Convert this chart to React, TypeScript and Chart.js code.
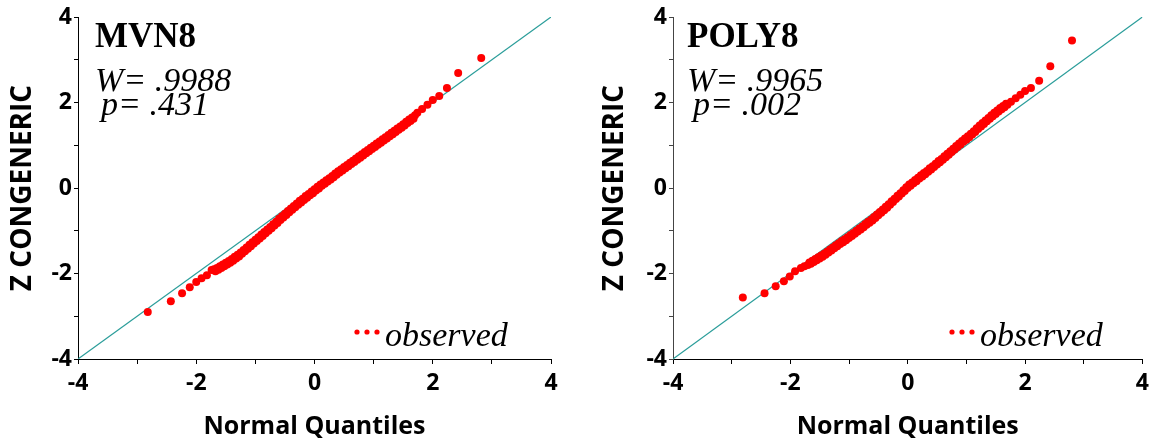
import React, { useEffect, useRef } from "react";
import { Chart, registerables } from "chart.js";

Chart.register(...registerables);

// Normal quantiles of the dense middle part (shared by both panels)
const midQuantiles = [
  -1.7, -1.65, -1.6, -1.55, -1.5, -1.45, -1.4, -1.35, -1.3, -1.25, -1.2, -1.15, -1.1, -1.05, -1.0,
  -0.95, -0.9, -0.85, -0.8, -0.75, -0.7, -0.65, -0.6, -0.55, -0.5, -0.45, -0.4, -0.35, -0.3, -0.25,
  -0.2, -0.15, -0.1, -0.05, 0.0, 0.05, 0.1, 0.15, 0.2, 0.25, 0.3, 0.35, 0.4, 0.45, 0.5, 0.55, 0.6,
  0.65, 0.7, 0.75, 0.8, 0.85, 0.9, 0.95, 1.0, 1.05, 1.1, 1.15, 1.2, 1.25, 1.3, 1.35, 1.4, 1.45, 1.5,
  1.55, 1.6, 1.65, 1.7,
];
const midQuantiles2 = [
  -1.675, -1.625, -1.575, -1.525, -1.475, -1.425, -1.375, -1.325, -1.275, -1.225, -1.175, -1.125,
  -1.075, -1.025, -0.975, -0.925, -0.875, -0.825, -0.775, -0.725, -0.675, -0.625, -0.575, -0.525,
  -0.475, -0.425, -0.375, -0.325, -0.275, -0.225, -0.175, -0.125, -0.075, -0.025, 0.025, 0.075,
  0.125, 0.175, 0.225, 0.275, 0.325, 0.375, 0.425, 0.475, 0.525, 0.575, 0.625, 0.675, 0.725, 0.775,
  0.825, 0.875, 0.925, 0.975, 1.025, 1.075, 1.125, 1.175, 1.225, 1.275, 1.325, 1.375, 1.425, 1.475,
  1.525, 1.575, 1.625, 1.675,
];

// MVN8
const mvnLowX = [-2.82, -2.43, -2.24, -2.11, -2.0, -1.91, -1.82, -1.74];
const mvnLowY = [-2.9, -2.65, -2.46, -2.32, -2.2, -2.11, -2.04, -1.92];
const mvnMidY = [
  -1.9, -1.87, -1.83, -1.79, -1.75, -1.71, -1.66, -1.61, -1.56, -1.51, -1.45, -1.39, -1.33, -1.27,
  -1.21, -1.15, -1.09, -1.03, -0.97, -0.91, -0.85, -0.79, -0.72, -0.66, -0.6, -0.54, -0.48, -0.42,
  -0.36, -0.3, -0.25, -0.19, -0.14, -0.08, -0.03, 0.03, 0.08, 0.13, 0.18, 0.23, 0.28, 0.34, 0.39,
  0.44, 0.49, 0.54, 0.59, 0.64, 0.69, 0.74, 0.79, 0.84, 0.89, 0.94, 0.99, 1.04, 1.09, 1.14, 1.19,
  1.24, 1.29, 1.34, 1.39, 1.44, 1.49, 1.55, 1.6, 1.65, 1.7,
];
const mvnMidY2 = [
  -1.95, -1.91, -1.87, -1.83, -1.79, -1.75, -1.7, -1.65, -1.6, -1.54, -1.48, -1.42, -1.36, -1.3,
  -1.24, -1.18, -1.12, -1.06, -1.0, -0.94, -0.88, -0.82, -0.75, -0.69, -0.63, -0.57, -0.51, -0.45,
  -0.39, -0.34, -0.28, -0.23, -0.17, -0.12, -0.06, -0.01, 0.05, 0.1, 0.15, 0.2, 0.25, 0.31, 0.36,
  0.41, 0.46, 0.51, 0.56, 0.61, 0.66, 0.71, 0.76, 0.81, 0.86, 0.91, 0.96, 1.01, 1.06, 1.11, 1.16,
  1.21, 1.26, 1.31, 1.36, 1.41, 1.46, 1.52, 1.57, 1.62,
];
const mvnHighX = [1.74, 1.82, 1.91, 2.0, 2.11, 2.24, 2.43, 2.82];
const mvnHighY = [1.76, 1.85, 1.95, 2.06, 2.15, 2.34, 2.69, 3.04];

// POLY8
const polyLowX = [-2.81, -2.44, -2.25, -2.11, -2.01, -1.92, -1.82, -1.76];
const polyLowY = [-2.56, -2.46, -2.3, -2.18, -2.07, -1.95, -1.87, -1.83];
const polyMidY = [
  -1.8, -1.77, -1.73, -1.69, -1.65, -1.61, -1.56, -1.51, -1.46, -1.41, -1.36, -1.31, -1.27, -1.22,
  -1.17, -1.12, -1.07, -1.02, -0.97, -0.92, -0.86, -0.81, -0.76, -0.7, -0.64, -0.58, -0.52, -0.46,
  -0.39, -0.33, -0.26, -0.2, -0.13, -0.07, 0.0, 0.05, 0.11, 0.16, 0.22, 0.27, 0.32, 0.38, 0.43,
  0.49, 0.55, 0.6, 0.66, 0.72, 0.78, 0.84, 0.9, 0.96, 1.02, 1.08, 1.13, 1.19, 1.25, 1.31, 1.38,
  1.44, 1.5, 1.56, 1.62, 1.68, 1.73, 1.79, 1.84, 1.89, 1.95,
];
const polyMidY2 = [
  -1.74, -1.7, -1.66, -1.62, -1.58, -1.54, -1.49, -1.44, -1.39, -1.34, -1.29, -1.24, -1.2, -1.15,
  -1.1, -1.05, -1.0, -0.95, -0.9, -0.84, -0.79, -0.74, -0.68, -0.62, -0.56, -0.5, -0.44, -0.38,
  -0.31, -0.25, -0.18, -0.12, -0.05, 0.02, 0.08, 0.13, 0.19, 0.24, 0.3, 0.35, 0.4, 0.46, 0.51, 0.57,
  0.63, 0.68, 0.74, 0.8, 0.86, 0.92, 0.98, 1.04, 1.1, 1.16, 1.21, 1.27, 1.33, 1.4, 1.46, 1.52, 1.58,
  1.64, 1.7, 1.76, 1.81, 1.87, 1.92, 1.97,
];
const polyHighX = [1.76, 1.84, 1.92, 2.0, 2.1, 2.24, 2.43, 2.8];
const polyHighY = [2.02, 2.1, 2.18, 2.27, 2.34, 2.51, 2.85, 3.45];

const refLineX = [-4, 4];
const axisMin = -4;
const axisMax = 4;

const TEAL = "#2a9d9a";
const RED = "#ff0000";
const SANS = "'Open Sans', 'DejaVu Sans', sans-serif";
const SERIF = "'Liberation Serif', 'DejaVu Serif', serif";

type PanelProps = {
  left: number;
  width: number;
  xs: number[];
  ys: number[];
  title: string;
  wText: string;
  pText: string;
  yAxisWidth: number;
  padRight: number;
  yTitlePad: number;
  textDx: number;
  legendDx: number;
  yBorderColor: string;
};

function Panel(props: PanelProps) {
  const ref = useRef<HTMLCanvasElement | null>(null);
  useEffect(() => {
    if (!ref.current) return;
    const pts = props.xs.map((x, i) => ({ x, y: props.ys[i] }));
    const line = refLineX.map((v) => ({ x: v, y: v }));
    const annot = {
      id: "annot",
      afterDraw(chart: any) {
        const { ctx, chartArea } = chart;
        const L = chartArea.left + props.textDx;
        ctx.save();
        ctx.fillStyle = "#000";
        ctx.textAlign = "left";
        ctx.textBaseline = "alphabetic";
        ctx.font = `bold 35px ${SERIF}`;
        ctx.fillText(props.title, L, 47);
        ctx.font = `italic 34px ${SERIF}`;
        ctx.fillText(props.wText, L, 91);
        ctx.fillText(props.pText, L + 6, 115);
        // legend
        const lx = chartArea.left + props.legendDx;
        ctx.fillStyle = RED;
        for (let i = 0; i < 3; i++) {
          ctx.beginPath();
          ctx.arc(lx + i * 10, 332, 2.6, 0, Math.PI * 2);
          ctx.fill();
        }
        ctx.fillStyle = "#000";
        ctx.font = `italic 34px ${SERIF}`;
        ctx.fillText("observed", lx + 28, 346);
        ctx.restore();
      },
    };
    const tickCb = (v: any) => (Number(v) % 2 === 0 ? String(v) : "");
    const chart = new Chart(ref.current, {
      type: "scatter",
      data: {
        datasets: [
          {
            type: "scatter",
            data: pts,
            backgroundColor: RED,
            borderWidth: 0,
            pointRadius: 4,
            pointHoverRadius: 4,
          } as any,
          {
            type: "line",
            data: line,
            borderColor: TEAL,
            borderWidth: 1.2,
            pointRadius: 0,
            fill: false,
          } as any,
        ],
      },
      options: {
        responsive: false,
        animation: false,
        events: [],
        layout: { padding: { top: 17, right: props.padRight, left: 0, bottom: 0 } },
        plugins: { legend: { display: false }, tooltip: { enabled: false } },
        scales: {
          x: {
            type: "linear",
            min: axisMin,
            max: axisMax,
            afterFit: (s: any) => {
              s.height = 83;
            },
            ticks: {
              stepSize: 1,
              callback: tickCb,
              color: "#000",
              font: { family: SANS, weight: "bold", size: 23 },
              padding: 6,
              maxRotation: 0,
              autoSkip: false,
            },
            grid: { display: true, drawOnChartArea: false, drawTicks: true, tickLength: 5, color: "#000" },
            border: { display: true, color: "#000", width: 1 },
            title: {
              display: true,
              text: "Normal Quantiles",
              color: "#000",
              font: { family: SANS, weight: "bold", size: 25 },
              padding: { top: 0, bottom: 0 },
            },
          },
          y: {
            type: "linear",
            min: axisMin,
            max: axisMax,
            afterFit: (s: any) => {
              s.width = props.yAxisWidth;
            },
            ticks: {
              stepSize: 1,
              callback: tickCb,
              color: "#000",
              font: { family: SANS, weight: "bold", size: 23 },
              padding: 2,
              autoSkip: false,
            },
            grid: { display: true, drawOnChartArea: false, drawTicks: true, tickLength: 4, color: props.yBorderColor },
            border: { display: true, color: props.yBorderColor, width: 1 },
            title: {
              display: true,
              text: "Z CONGENERIC",
              color: "#000",
              font: { family: SANS, weight: "bold", size: 28 },
              padding: { top: props.yTitlePad, bottom: 0 },
            },
          },
        },
      } as any,
      plugins: [annot],
    });
    return () => chart.destroy();
  }, []);
  return (
    <canvas
      ref={ref}
      width={props.width}
      height={442}
      style={{ position: "absolute", left: props.left, top: 0, width: props.width, height: 442 }}
    />
  );
}

export default function App() {
  const mvnXs = [...mvnLowX, ...midQuantiles, ...midQuantiles2, ...mvnHighX];
  const mvnYs = [...mvnLowY, ...mvnMidY, ...mvnMidY2, ...mvnHighY];
  const polyXs = [...polyLowX, ...midQuantiles, ...midQuantiles2, ...polyHighX];
  const polyYs = [...polyLowY, ...polyMidY, ...polyMidY2, ...polyHighY];
  return (
    <div style={{ position: "fixed", left: 0, top: 0, width: 1155, height: 442, background: "#fff" }}>
      <Panel
        left={0}
        width={577}
        xs={mvnXs}
        ys={mvnYs}
        title="MVN8"
        wText="W= .9988"
        pText="p= .431"
        yAxisWidth={78}
        padRight={26}
        yTitlePad={6}
        textDx={17}
        legendDx={279}
        yBorderColor="#000"
      />
      <Panel
        left={577}
        width={578}
        xs={polyXs}
        ys={polyYs}
        title="POLY8"
        wText="W= .9965"
        pText="p= .002"
        yAxisWidth={96}
        padRight={10}
        yTitlePad={21}
        textDx={14}
        legendDx={279}
        yBorderColor="#444"
      />
    </div>
  );
}
